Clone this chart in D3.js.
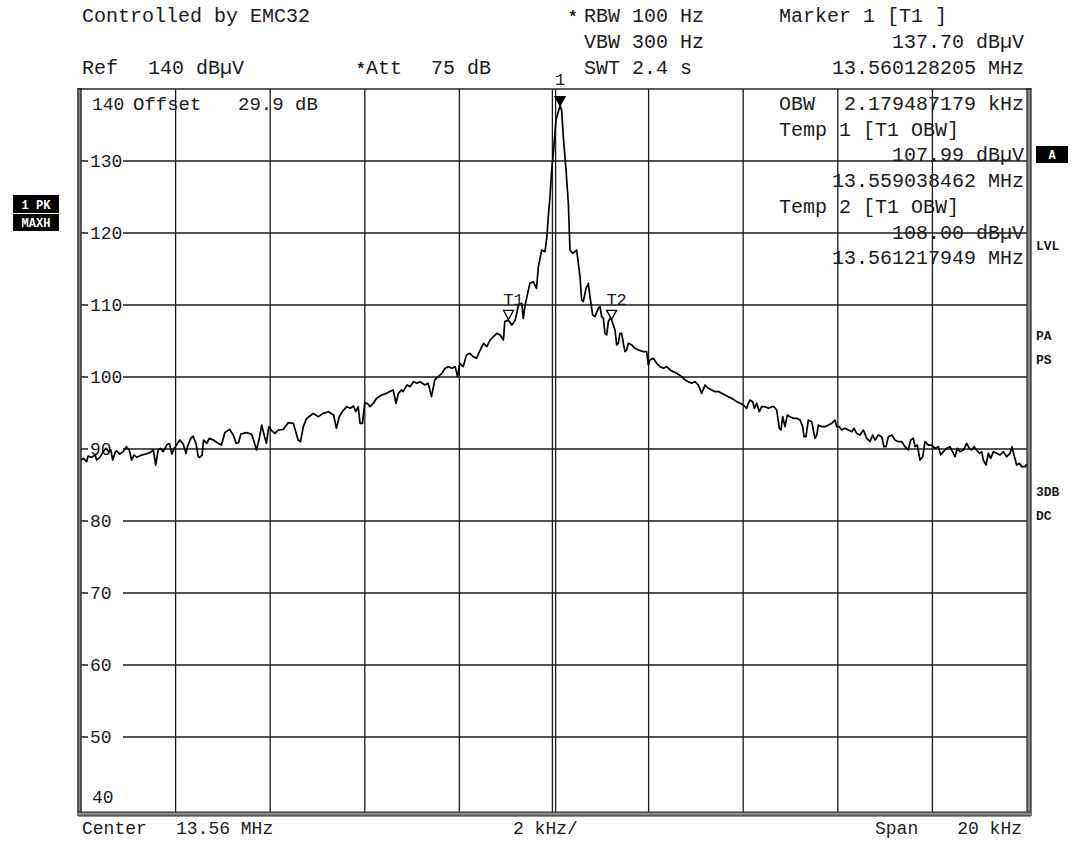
<!DOCTYPE html>
<html><head><meta charset="utf-8">
<script src="https://cdn.jsdelivr.net/npm/d3@7"></script>
<style>body{margin:0;background:#fff}svg{display:block}text{white-space:pre}</style>
</head><body><svg id="c" width="1074" height="842"></svg>
<script>
// ---- data: spectrum trace as [frequency offset from 13.56 MHz in kHz, level in dBµV] ----
const traceLeftWing = [[-10.0,88.47],[-9.95,88.70],[-9.88,88.24],[-9.85,89.02],[-9.78,88.84],[-9.70,89.16],[-9.67,88.47],[-9.60,88.84],[-9.53,89.63],[-9.47,90.09],[-9.42,89.63],[-9.37,89.86],[-9.33,88.47],[-9.28,89.49],[-9.25,89.77],[-9.18,89.30],[-9.11,89.63],[-9.04,90.32],[-8.98,89.86],[-8.93,88.47],[-8.88,89.16],[-8.82,88.84],[-8.72,89.16],[-8.63,89.30],[-8.54,89.49],[-8.47,89.86],[-8.42,87.77],[-8.37,89.86],[-8.32,90.09],[-8.26,89.63],[-8.19,90.55],[-8.13,90.78],[-8.08,89.30],[-8.03,90.09],[-7.96,90.78],[-7.91,91.25],[-7.84,90.69],[-7.78,89.40],[-7.75,90.32],[-7.68,91.48],[-7.63,91.80],[-7.57,90.78],[-7.52,88.93],[-7.49,88.84],[-7.44,89.16],[-7.41,91.25],[-7.34,90.78],[-7.29,91.48],[-7.20,91.25],[-7.10,90.78],[-7.03,90.55],[-6.96,92.27],[-6.86,92.73],[-6.78,91.94],[-6.72,90.78],[-6.67,90.88],[-6.62,92.08],[-6.57,92.17],[-6.50,92.27],[-6.39,92.03],[-6.32,90.55],[-6.29,89.86],[-6.23,91.48],[-6.18,93.33],[-6.11,91.48],[-6.08,90.78],[-6.03,93.10],[-5.97,92.54],[-5.90,92.17],[-5.83,92.64],[-5.72,92.73],[-5.62,93.66],[-5.51,93.56],[-5.41,91.25],[-5.36,91.02],[-5.30,93.10],[-5.23,94.26],[-5.16,94.58],[-5.09,94.95],[-4.98,94.49],[-4.88,94.95],[-4.77,95.18],[-4.66,94.72],[-4.60,92.87],[-4.54,94.49],[-4.45,95.41],[-4.38,95.88],[-4.31,95.65],[-4.24,95.97],[-4.19,95.18],[-4.14,95.88],[-4.10,93.56],[-4.05,93.56],[-4.00,96.43],[-3.93,96.25]];
const traceLeftSkirt = [[-3.89,95.88],[-3.82,96.35],[-3.75,97.04],[-3.64,97.50],[-3.54,97.73],[-3.47,97.97],[-3.40,98.20],[-3.34,96.35],[-3.29,97.73],[-3.22,98.20],[-3.19,97.97],[-3.11,98.89],[-3.04,98.66],[-2.97,99.35],[-2.90,99.12],[-2.83,99.35],[-2.73,98.89],[-2.66,99.12],[-2.59,97.27],[-2.52,99.59],[-2.45,100.05],[-2.37,100.51],[-2.30,101.21],[-2.23,101.44],[-2.16,101.21],[-2.09,101.44],[-2.04,100.05],[-1.99,101.90],[-1.92,101.44],[-1.85,103.06],[-1.78,103.29],[-1.71,102.83],[-1.64,102.60],[-1.56,103.75],[-1.49,104.68],[-1.42,104.22],[-1.35,105.14],[-1.28,105.61],[-1.21,106.07],[-1.14,105.84],[-1.07,105.14],[-1.04,107.69],[-0.97,107.92],[-0.89,107.22],[-0.82,107.92],[-0.75,110.00],[-0.68,110.24],[-0.65,108.15],[-0.61,110.00],[-0.58,110.93],[-0.51,113.01],[-0.44,113.24],[-0.37,112.32],[-0.33,115.33],[-0.26,117.64],[-0.19,117.41],[-0.15,119.5]];
const tracePeak = [[-0.12,122.27],[-0.085,125.05],[-0.049,128.75],[-0.014,131.07],[0.042,135.70],[0.128,137.70],[0.162,137.0],[0.197,133.38],[0.254,128.75],[0.303,124.12],[0.338,117.64],[0.395,117.18],[0.444,117.41],[0.479,117.64],[0.515,115.79],[0.550,113.94],[0.585,110.70]];
const traceRightSkirt = [[0.620,110.47],[0.677,112.32],[0.726,113.01],[0.761,111.16],[0.818,108.61],[0.867,108.38],[0.937,109.54],[0.973,109.77],[1.008,108.38],[1.043,108.15],[1.078,106.07],[1.114,105.84],[1.149,107.69],[1.184,108.15],[1.219,107.92],[1.254,107.22],[1.290,106.53],[1.325,104.45],[1.360,104.68],[1.395,106.07],[1.431,106.07],[1.466,104.68],[1.501,103.52],[1.536,103.75],[1.572,104.68],[1.642,104.45],[1.713,103.99],[1.783,103.75],[1.889,103.52],[1.959,103.52],[1.994,101.67],[2.030,102.36],[2.100,102.60],[2.171,101.90],[2.241,101.44],[2.312,101.21],[2.382,101.44],[2.453,100.98],[2.523,100.74],[2.593,100.51],[2.699,100.05],[2.770,99.59],[2.840,99.35],[2.911,99.12],[2.981,99.35],[3.052,98.89],[3.122,97.73],[3.193,98.89],[3.263,98.43],[3.334,98.20],[3.404,97.97],[3.475,97.97],[3.545,97.73],[3.615,97.50],[3.686,97.27],[3.756,97.04],[3.862,96.58],[3.933,96.35],[4.003,96.11],[4.073,95.65]];
const traceRightWing = [[4.109,96.34],[4.144,96.80],[4.200,96.57],[4.236,95.65],[4.285,96.34],[4.341,95.18],[4.391,95.88],[4.461,95.88],[4.532,95.65],[4.602,95.88],[4.651,95.88],[4.708,95.42],[4.764,92.87],[4.799,92.64],[4.835,94.49],[4.884,93.10],[4.933,94.72],[4.990,94.49],[5.060,94.26],[5.131,94.26],[5.201,94.03],[5.258,93.10],[5.286,91.71],[5.328,91.71],[5.377,94.03],[5.448,93.80],[5.518,91.48],[5.554,91.94],[5.589,93.33],[5.659,93.10],[5.730,93.10],[5.800,93.33],[5.871,93.56],[5.941,94.03],[5.976,93.10],[6.033,93.10],[6.082,92.64],[6.153,92.87],[6.223,92.64],[6.294,92.41],[6.343,92.87],[6.399,92.18],[6.470,91.94],[6.540,92.64],[6.611,91.48],[6.681,91.02],[6.738,91.94],[6.787,91.25],[6.857,91.94],[6.928,91.71],[6.977,90.32],[7.019,90.32],[7.069,91.71],[7.139,91.94],[7.210,91.25],[7.280,91.02],[7.351,91.02],[7.421,90.32],[7.491,89.86],[7.541,91.25],[7.597,91.48],[7.632,90.32],[7.682,90.55],[7.738,88.47],[7.795,88.93],[7.844,91.02],[7.914,90.55],[7.985,90.55],[8.055,90.09],[8.126,90.32],[8.175,89.17],[8.231,89.63],[8.302,90.09],[8.372,90.32],[8.443,89.40],[8.478,88.93],[8.527,90.09],[8.584,89.63],[8.654,89.86],[8.725,90.79],[8.781,90.09],[8.830,89.86],[8.880,90.32],[8.936,89.86],[8.993,89.40],[9.042,89.63],[9.077,88.47],[9.134,87.78],[9.183,89.40],[9.232,88.70],[9.289,89.63],[9.359,89.40],[9.430,89.17],[9.500,89.63],[9.570,88.93],[9.641,89.40],[9.683,90.32],[9.725,89.17],[9.782,87.78],[9.838,88.01],[9.888,87.55],[9.958,87.55],[10.0,87.9]];
const yTickValues = [130,120,110,100,90,80,70,60,50];
const xGridValues = [-8,-6,-4,-2,2,4,6,8];
const markerNames = ["1","T1","T2"];
const markerFreqKHz = [0.128205,-0.961538,1.217949];
const markerLevels = [137.70,107.99,108.00];
const markerFilled = [true,false,false];

const trace = [].concat(traceLeftWing,traceLeftSkirt,tracePeak,traceRightSkirt,traceRightWing);

// ---- layout ----
const svg = d3.select("#c");
const L=81, R=1027, T=89, B=809;
const x = d3.scaleLinear().domain([-10,10]).range([L,R]);
const y = d3.scaleLinear().domain([40,140]).range([B,T]);
const FONT = "'Liberation Mono','Courier New',monospace";
const INK = "#1c1c1c";
svg.append("rect").attr("width",1074).attr("height",842).attr("fill","#fff");

// grid
const g = svg.append("g").attr("stroke","#1a1a1a").attr("stroke-width",1.3);
xGridValues.forEach(v=>g.append("line").attr("x1",x(v)).attr("x2",x(v)).attr("y1",T).attr("y2",B+3));
[-1.6,1.6].forEach(d=>g.append("line").attr("x1",x(0)+d).attr("x2",x(0)+d).attr("y1",T).attr("y2",B+3));
yTickValues.forEach(v=>g.append("line").attr("x1",L).attr("x2",R).attr("y1",y(v)).attr("y2",y(v)));

// frame
const f = svg.append("g").attr("fill","none").attr("stroke","#222");
f.append("line").attr("x1",L-1.5).attr("x2",L-1.5).attr("y1",T-1).attr("y2",B+7).attr("stroke","#888").attr("stroke-width",4);
f.append("line").attr("x1",L-3).attr("x2",L-3).attr("y1",T-1).attr("y2",B+7).attr("stroke-width",1.2);
f.append("line").attr("x1",L).attr("x2",L).attr("y1",T-1).attr("y2",B+7).attr("stroke-width",1.2);
f.append("line").attr("x1",R+2).attr("x2",R+2).attr("y1",T-1).attr("y2",B+7).attr("stroke","#888").attr("stroke-width",4);
f.append("line").attr("x1",R).attr("x2",R).attr("y1",T-1).attr("y2",B+7).attr("stroke-width",1.2);
f.append("line").attr("x1",R+4).attr("x2",R+4).attr("y1",T-1).attr("y2",B+7).attr("stroke-width",1.2);
f.append("line").attr("x1",L-3).attr("x2",R+4).attr("y1",T).attr("y2",T).attr("stroke-width",1.6);
f.append("line").attr("x1",L-3).attr("x2",R+4).attr("y1",B+5).attr("y2",B+5).attr("stroke","#888").attr("stroke-width",4);
f.append("line").attr("x1",L-3).attr("x2",R+4).attr("y1",B+3).attr("y2",B+3).attr("stroke-width",1.2);
f.append("line").attr("x1",L-3).attr("x2",R+4).attr("y1",B+7).attr("y2",B+7).attr("stroke-width",1.2);

function txt(s,px,py,opt={}){
  return svg.append("text").attr("x",px).attr("y",py).text(s)
    .attr("font-family",FONT).attr("font-size",opt.size||20)
    .attr("font-weight",opt.bold?"bold":"normal")
    .attr("text-anchor",opt.anchor||"start").attr("fill",opt.fill||INK);
}

// y tick labels
yTickValues.forEach(v=>{
  svg.append("rect").attr("x",88).attr("y",y(v)-8).attr("width",35).attr("height",16).attr("fill","#fff");
  txt(String(v),90,y(v)+6,{size:18});
});
txt("140",92,110,{size:18});
txt("40",92,803,{size:18});

// header
txt("Controlled by EMC32",82,22);
txt("*",568,22,{size:16,bold:true});
txt("RBW 100 Hz",584,22);
txt("VBW 300 Hz",584,48);
txt("SWT 2.4 s",584,74);
txt("Marker 1 [T1 ]",779,22);
txt("137.70 dBµV",1024,48,{anchor:"end"});
txt("13.560128205 MHz",1024,74,{anchor:"end"});
txt("Ref",82,74);
txt("140 dBµV",148,74);
txt("*",356,74,{size:16,bold:true});
txt("Att",366,74);
txt("75 dB",431,74);

// inside info
txt("Offset",133,110,{size:19});
txt("29.9 dB",238,110,{size:19});
txt("OBW",779,110);
txt("2.179487179 kHz",1024,110,{anchor:"end"});
txt("Temp 1 [T1 OBW]",779,136);
txt("107.99 dBµV",1024,161,{anchor:"end"});
txt("13.559038462 MHz",1024,187,{anchor:"end"});
txt("Temp 2 [T1 OBW]",779,213);
txt("108.00 dBµV",1024,239,{anchor:"end"});
txt("13.561217949 MHz",1024,264,{anchor:"end"});

// bottom
txt("Center",82,834,{size:18});
txt("13.56 MHz",176,834,{size:18});
txt("2 kHz/",513,834,{size:18});
txt("Span",875,834,{size:18});
txt("20 kHz",1022,834,{size:18,anchor:"end"});

// side labels
function box(s,bx,by,w,h){
  svg.append("rect").attr("x",bx).attr("y",by).attr("width",w).attr("height",h).attr("fill","#000");
  txt(s,bx+w/2,by+h-4,{size:12,bold:true,fill:"#fff",anchor:"middle"});
}
box("1 PK",13,195,46,18);
box("MAXH",13,214,46,17);
box("A",1036,146,32,17);
[["LVL",250],["PA",340],["PS",364],["3DB",496],["DC",520]].forEach(d=>txt(d[0],1036,d[1],{size:13,bold:true}));

// trace
const line = d3.line().x(d=>x(d[0])).y(d=>y(d[1]));
svg.append("path").datum(trace).attr("d",line).attr("fill","none").attr("stroke","#000").attr("stroke-width",1.7).attr("stroke-linejoin","round");

// markers
markerNames.forEach((n,i)=>{
  const mx=x(markerFreqKHz[i]), my=y(markerLevels[i]);
  const tri=`M${mx-5},${my-9}L${mx+5},${my-9}L${mx},${my}Z`;
  svg.append("path").attr("d",tri).attr("fill",markerFilled[i]?"#000":"#fff").attr("stroke","#000").attr("stroke-width",1.3);
  if(n==="1") txt(n,mx,85,{size:17,anchor:"middle"});
  else txt(n,mx+5,my-14,{size:17,anchor:"middle"});
});
</script></body></html>
